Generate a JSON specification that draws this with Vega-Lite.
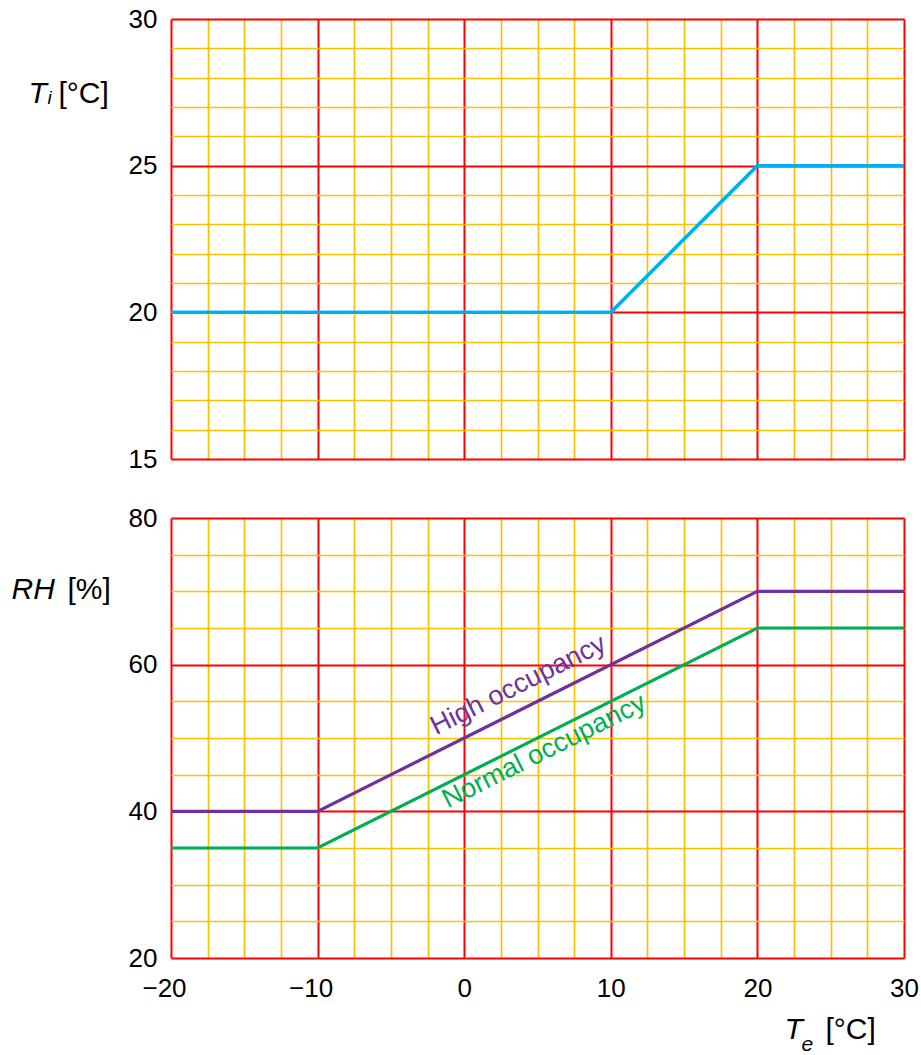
{
  "$schema": "https://vega.github.io/schema/vega-lite/v6.json",
  "padding": {"left": 11, "top": 6, "right": 0, "bottom": 0},
  "config": {
    "view": {"stroke": null},
    "font": "Liberation Sans",
    "axis": {
      "labelColor": "#000000",
      "titleColor": "#000000",
      "labelFont": "Liberation Sans",
      "titleFont": "Liberation Sans",
      "labelFontSize": 26,
      "titleFontSize": 30,
      "titleFontWeight": "normal",
      "ticks": false,
      "tickSize": 0,
      "domain": false,
      "labelOverlap": false,
      "labelFlush": false,
      "labelBound": false,
      "titleAngle": 0,
      "titleAlign": "left",
      "titleBaseline": "alphabetic"
    }
  },
  "spacing": 59,
  "bounds": "flush",
  "vconcat": [
    {
      "width": 733,
      "height": 440,
      "data": {"values": [
        {"te": -20, "ti": 20},
        {"te": 10, "ti": 20},
        {"te": 20, "ti": 25},
        {"te": 30, "ti": 25}
      ]},
      "layer": [
        {
          "mark": {"type": "line", "color": "#00B0F0", "strokeWidth": 3.2},
          "encoding": {
            "x": {
              "field": "te", "type": "quantitative",
              "scale": {"domain": [-20, 30], "nice": false, "zero": false},
              "axis": {
                "orient": "bottom", "grid": true, "labels": false,
                "values": [-20, -17.5, -15, -12.5, -10, -7.5, -5, -2.5, 0, 2.5, 5, 7.5, 10, 12.5, 15, 17.5, 20, 22.5, 25, 27.5, 30],
                "gridColor": {"condition": {"test": "datum.value % 10 === 0", "value": "#FF0000"}, "value": "#FFC000"},
                "gridWidth": {"condition": {"test": "datum.value % 10 === 0", "value": 2}, "value": 1.7},
                "gridOpacity": 1,
                "title": "i", "titleFontStyle": "italic", "titleFontSize": 19,
                "titleX": -124, "titleY": -356
              }
            },
            "y": {
              "field": "ti", "type": "quantitative",
              "scale": {"domain": [15, 30], "nice": false, "zero": false},
              "axis": {
                "orient": "left", "grid": true,
                "values": [15, 16, 17, 18, 19, 20, 21, 22, 23, 24, 25, 26, 27, 28, 29, 30],
                "labelExpr": "datum.value % 5 === 0 ? datum.label : ''",
                "labelPadding": 14,
                "gridColor": {"condition": {"test": "datum.value % 5 === 0", "value": "#FF0000"}, "value": "#FFC000"},
                "gridWidth": {"condition": {"test": "datum.value % 5 === 0", "value": 2}, "value": 1.7},
                "gridOpacity": 1,
                "title": "T", "titleFontStyle": "italic",
                "titleX": -143, "titleY": 83
              }
            }
          }
        },
        {
          "mark": {"type": "line", "color": "#00B0F0", "strokeWidth": 3.2},
          "encoding": {
            "x": {
              "field": "te", "type": "quantitative",
              "axis": {
                "orient": "top", "grid": false, "labels": false,
                "title": "e", "titleFontStyle": "italic", "titleFontSize": 21,
                "titleX": 630, "titleY": 1031
              }
            },
            "y": {
              "field": "ti", "type": "quantitative",
              "axis": {
                "orient": "right", "grid": false, "labels": false,
                "title": "[°C]", "titleX": -846, "titleY": 83
              }
            }
          }
        }
      ]
    },
    {
      "width": 733,
      "height": 440,
      "layer": [
        {
          "data": {"values": [
            {"te": -20, "rh": 40, "series": "High occupancy"},
            {"te": -10, "rh": 40, "series": "High occupancy"},
            {"te": 20, "rh": 70, "series": "High occupancy"},
            {"te": 30, "rh": 70, "series": "High occupancy"},
            {"te": -20, "rh": 35, "series": "Normal occupancy"},
            {"te": -10, "rh": 35, "series": "Normal occupancy"},
            {"te": 20, "rh": 65, "series": "Normal occupancy"},
            {"te": 30, "rh": 65, "series": "Normal occupancy"}
          ]},
          "mark": {"type": "line", "strokeWidth": 3.2},
          "encoding": {
            "x": {
              "field": "te", "type": "quantitative",
              "scale": {"domain": [-20, 30], "nice": false, "zero": false},
              "axis": {
                "orient": "bottom", "grid": true,
                "values": [-20, -17.5, -15, -12.5, -10, -7.5, -5, -2.5, 0, 2.5, 5, 7.5, 10, 12.5, 15, 17.5, 20, 22.5, 25, 27.5, 30],
                "labelExpr": "datum.value % 10 === 0 ? datum.label : ''",
                "labelPadding": 17,
                "labelOffset": {"condition": {"test": "datum.value < 0", "value": -7}, "value": 0},
                "gridColor": {"condition": {"test": "datum.value % 10 === 0", "value": "#FF0000"}, "value": "#FFC000"},
                "gridWidth": {"condition": {"test": "datum.value % 10 === 0", "value": 2}, "value": 1.7},
                "gridOpacity": 1,
                "title": "[°C]", "titleX": 654, "titleY": 80
              }
            },
            "y": {
              "field": "rh", "type": "quantitative",
              "scale": {"domain": [20, 80], "nice": false, "zero": false},
              "axis": {
                "orient": "left", "grid": true,
                "values": [20, 25, 30, 35, 40, 45, 50, 55, 60, 65, 70, 75, 80],
                "labelExpr": "datum.value % 20 === 0 ? datum.label : ''",
                "labelPadding": 14,
                "gridColor": {"condition": {"test": "datum.value % 20 === 0", "value": "#FF0000"}, "value": "#FFC000"},
                "gridWidth": {"condition": {"test": "datum.value % 20 === 0", "value": 2}, "value": 1.7},
                "gridOpacity": 1,
                "title": "RH", "titleFontStyle": "italic",
                "titleX": -160, "titleY": 80
              }
            },
            "color": {
              "field": "series", "type": "nominal",
              "scale": {"domain": ["High occupancy", "Normal occupancy"], "range": ["#7030A0", "#00B050"]},
              "legend": null
            }
          }
        },
        {
          "data": {"values": [
            {"te": 4.4, "rh": 54.4, "label": "High occupancy", "series": "High occupancy"}
          ]},
          "mark": {"type": "text", "angle": -26.57, "align": "center", "baseline": "alphabetic", "dy": -15, "fontSize": 27, "font": "Liberation Sans"},
          "encoding": {
            "x": {
              "field": "te", "type": "quantitative",
              "axis": {
                "orient": "top", "grid": false, "labels": false,
                "title": "T", "titleFontStyle": "italic",
                "titleX": 613, "titleY": 520
              }
            },
            "y": {
              "field": "rh", "type": "quantitative",
              "axis": {
                "orient": "right", "grid": false, "labels": false,
                "title": "[%]", "titleX": -837, "titleY": 80
              }
            },
            "text": {"field": "label", "type": "nominal"},
            "color": {"field": "series", "type": "nominal", "legend": null}
          }
        },
        {
          "data": {"values": [
            {"te": 5, "rh": 50, "label": "Normal occupancy", "series": "Normal occupancy"}
          ]},
          "mark": {"type": "text", "angle": -26.57, "align": "center", "baseline": "alphabetic", "dy": 23, "fontSize": 27, "font": "Liberation Sans"},
          "encoding": {
            "x": {"field": "te", "type": "quantitative", "axis": null},
            "y": {"field": "rh", "type": "quantitative", "axis": null},
            "text": {"field": "label", "type": "nominal"},
            "color": {"field": "series", "type": "nominal", "legend": null}
          }
        }
      ]
    }
  ]
}
